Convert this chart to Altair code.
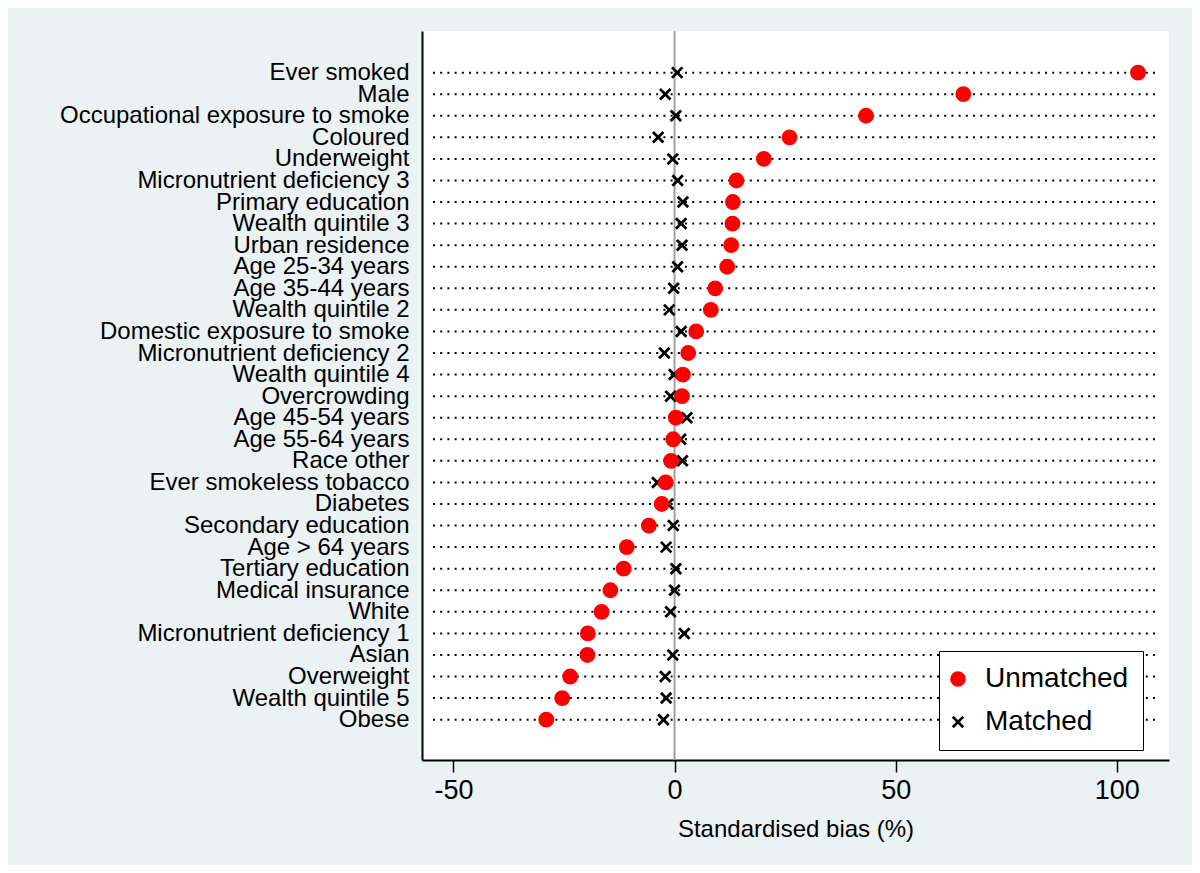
import json
import altair as alt
import pandas as pd

labels = [
    "Ever smoked", "Male", "Occupational exposure to smoke", "Coloured", "Underweight",
    "Micronutrient deficiency 3", "Primary education", "Wealth quintile 3", "Urban residence",
    "Age 25-34 years", "Age 35-44 years", "Wealth quintile 2", "Domestic exposure to smoke",
    "Micronutrient deficiency 2", "Wealth quintile 4", "Overcrowding", "Age 45-54 years",
    "Age 55-64 years", "Race other", "Ever smokeless tobacco", "Diabetes",
    "Secondary education", "Age > 64 years", "Tertiary education", "Medical insurance",
    "White", "Micronutrient deficiency 1", "Asian", "Overweight", "Wealth quintile 5", "Obese",
]
unmatched = [
    104.8, 65.3, 43.3, 26.0, 20.2, 14.0, 13.2, 13.1, 12.8, 11.9, 9.2, 8.2, 4.9, 3.1, 1.9, 1.7,
    0.3, -0.3, -0.8, -2.0, -2.9, -5.8, -10.8, -11.5, -14.5, -16.5, -19.6, -19.7, -23.6, -25.4, -29.0,
]
matched = [
    0.6, -2.1, 0.3, -3.7, -0.4, 0.7, 1.9, 1.5, 1.7, 0.7, -0.2, -1.2, 1.5, -2.3, -0.1, -0.9,
    2.8, 1.4, 1.8, -3.9, -1.5, -0.3, -1.9, 0.3, 0.0, -0.9, 2.2, -0.4, -2.1, -1.9, -2.5,
]
series_names = ["Unmatched", "Matched"]
x_ticks = [-50, 0, 50, 100]

FONT = "Liberation Sans"
X_PATH = "M-1,-1L1,1M-1,1L1,-1"

n = len(labels)
# position: top row (first label) gets the highest value
pos = [n - 1 - i for i in range(n)]
labels_by_pos = [labels[n - 1 - p] for p in range(n)]

rows = []
for lab, p, v in zip(labels, pos, matched):
    rows.append({"label": lab, "pos": p, "series": "Matched", "bias": v})
for lab, p, v in zip(labels, pos, unmatched):
    rows.append({"label": lab, "pos": p, "series": "Unmatched", "bias": v})
df = pd.DataFrame(rows)
lines_df = pd.DataFrame({"label": labels, "pos": pos})
zero_df = pd.DataFrame({"bias": [0]})

y_enc = alt.Y(
    "pos:Q",
    scale=alt.Scale(domain=[-1.87, n - 1 + 1.93], nice=False, zero=False),
    axis=alt.Axis(
        values=list(range(n)),
        labelExpr=json.dumps(labels_by_pos) + "[datum.value]",
        title=None, labelFontSize=24, labelFont=FONT, labelColor="black",
        labelPadding=13, ticks=False, tickSize=0, domainColor="black", domainWidth=2,
        grid=False, labelLimit=500, labelOverlap=False, labelBaseline="middle",
    ),
)
x_scale = alt.Scale(domain=[-57.1, 111.8], nice=False, zero=False)
x_axis = alt.Axis(
    values=x_ticks, title="Standardised bias (%)", titleFont=FONT, titleFontSize=24,
    titleFontWeight="normal", titleColor="black", titlePadding=14,
    labelFont=FONT, labelFontSize=27, labelColor="black", labelPadding=5,
    labelExpr="'' + datum.value",
    tickSize=12, tickWidth=1.5, tickColor="black", domainColor="black", domainWidth=2,
    grid=False,
)
x_enc = alt.X("bias:Q", scale=x_scale, axis=x_axis)

dotted = alt.Chart(lines_df).mark_rule(
    color="black", strokeWidth=2, strokeDash=[2, 5.2]
).encode(y=y_enc, x=alt.value(11), x2=alt.value(736))

zero = alt.Chart(zero_df).mark_rule(color="#A0A0A0", strokeWidth=2).encode(x=x_enc)

legend = alt.Legend(
    title=None, orient="none", legendX=517, legendY=620, fillColor="white",
    strokeColor="black", padding=14, labelFont=FONT, labelFontSize=28,
    labelColor="black", rowPadding=15, labelOffset=13, symbolOffset=-9,
    symbolStrokeWidth=2.5, labelLimit=300, labelExpr="datum.label + '\u2002'",
)

pts = alt.Chart(df).mark_point(opacity=1, strokeWidth=2.8).encode(
    x=x_enc,
    y=y_enc,
    shape=alt.Shape("series:N", scale=alt.Scale(domain=series_names, range=["circle", X_PATH]), legend=legend),
    fill=alt.Fill("series:N", scale=alt.Scale(domain=series_names, range=["#FF0000", "transparent"]), legend=legend),
    stroke=alt.Stroke("series:N", scale=alt.Scale(domain=series_names, range=["#FF0000", "#000000"]), legend=legend),
    size=alt.Size("series:N", scale=alt.Scale(domain=series_names, range=[170, 110]), legend=legend),
)

chart = alt.layer(dotted, zero, pts).properties(
    width=747, height=729,
    autosize=alt.AutoSizeParams(type="none"),
    padding={"left": 414, "top": 23, "right": 23, "bottom": 105},
    background="#EAF2F3",
).configure_view(stroke=None, fill="white")

chart.save("out.html", embed_options={"renderer": "svg", "actions": False})
